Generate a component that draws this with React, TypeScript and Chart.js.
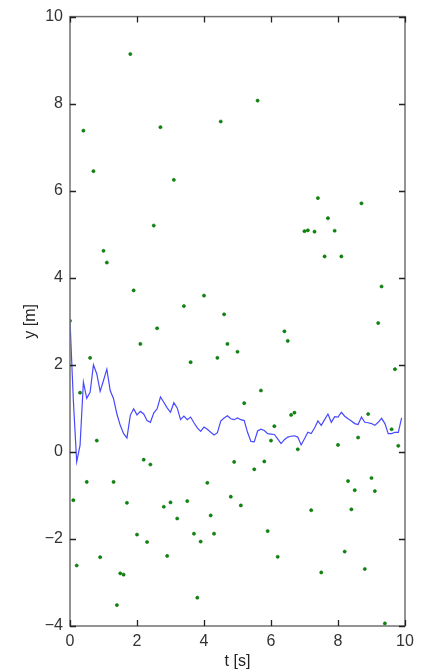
import React, { useEffect, useRef } from "react";
import { Chart, registerables } from "chart.js";

Chart.register(...registerables);

// Measurements (green dots)
const measT = [
  0.0, 0.1, 0.2, 0.3, 0.4, 0.5, 0.6, 0.7, 0.8, 0.9,
  1.0, 1.1, 1.3, 1.4, 1.5, 1.6, 1.7, 1.8, 1.9,
  2.0, 2.1, 2.2, 2.3, 2.4, 2.5, 2.6, 2.7, 2.8, 2.9,
  3.0, 3.1, 3.2, 3.4, 3.5, 3.6, 3.7, 3.8, 3.9,
  4.0, 4.1, 4.2, 4.3, 4.4, 4.5, 4.6, 4.7, 4.8, 4.9,
  5.0, 5.1, 5.2, 5.5, 5.6, 5.7, 5.8, 5.9,
  6.0, 6.1, 6.2, 6.4, 6.5, 6.6, 6.7, 6.8,
  7.0, 7.1, 7.2, 7.3, 7.4, 7.5, 7.6, 7.7, 7.9,
  8.0, 8.1, 8.2, 8.3, 8.4, 8.5, 8.6, 8.7, 8.8, 8.9,
  9.0, 9.1, 9.2, 9.3, 9.4, 9.6, 9.7, 9.8,
];
const measY = [
  3.01, -1.11, -2.61, 1.36, 7.38, -0.69, 2.16, 6.45, 0.26, -2.42,
  4.62, 4.35, -0.69, -3.52, -2.79, -2.82, -1.17, 9.14, 3.71,
  -1.9, 2.48, -0.18, -2.07, -0.29, 5.2, 2.84, 7.46, -1.26, -2.39,
  -1.16, 6.25, -1.53, 3.35, -1.13, 2.06, -1.88, -3.35, -2.06,
  3.59, -0.71, -1.46, -1.88, 2.16, 7.59, 3.16, 2.48, -1.03, -0.23,
  2.3, -1.23, 1.12, -0.4, 8.07, 1.41, -0.22, -1.82,
  0.26, 0.59, -2.41, 2.77, 2.55, 0.85, 0.9, 0.06,
  5.07, 5.09, -1.34, 5.06, 5.83, -2.77, 4.49, 5.37, 5.08,
  0.16, 4.49, -2.29, -0.67, -1.32, -0.88, 0.33, 5.71, -2.69, 0.87,
  -0.6, -0.9, 2.96, 3.8, -3.94, 0.52, 1.9, 0.14,
];

// Estimate (blue line)
const estT = [
  0.0, 0.1, 0.2, 0.3, 0.4, 0.5, 0.6, 0.7, 0.8, 0.9,
  1.0, 1.1, 1.2, 1.3, 1.4, 1.5, 1.6, 1.7, 1.8, 1.9,
  2.0, 2.1, 2.2, 2.3, 2.4, 2.5, 2.6, 2.7, 2.8, 2.9,
  3.0, 3.1, 3.2, 3.3, 3.4, 3.5, 3.6, 3.7, 3.8, 3.9,
  4.0, 4.1, 4.2, 4.3, 4.4, 4.5, 4.6, 4.7, 4.8, 4.9,
  5.0, 5.1, 5.2, 5.3, 5.4, 5.5, 5.6, 5.7, 5.8, 5.9,
  6.0, 6.1, 6.2, 6.3, 6.4, 6.5, 6.6, 6.7, 6.8, 6.9,
  7.0, 7.1, 7.2, 7.3, 7.4, 7.5, 7.6, 7.7, 7.8, 7.9,
  8.0, 8.1, 8.2, 8.3, 8.4, 8.5, 8.6, 8.7, 8.8, 8.9,
  9.0, 9.1, 9.2, 9.3, 9.4, 9.5, 9.6, 9.7, 9.8, 9.9,
];
const estY = [
  3.01, 1.18, -0.23, 0.15, 1.6, 1.23, 1.37, 2.0, 1.79, 1.39,
  1.64, 1.9, 1.41, 1.22, 0.87, 0.61, 0.42, 0.32, 0.84, 0.99,
  0.85, 0.93, 0.87, 0.72, 0.68, 0.89, 0.99, 1.26, 1.14, 1.01,
  0.91, 1.13, 1.01, 0.74, 0.82, 0.74, 0.8, 0.67, 0.55, 0.47,
  0.57, 0.52, 0.45, 0.39, 0.44, 0.71, 0.78, 0.83, 0.76, 0.74,
  0.78, 0.74, 0.72, 0.45, 0.24, 0.23, 0.48, 0.52, 0.49, 0.42,
  0.41, 0.4, 0.3, 0.19, 0.28, 0.34, 0.36, 0.37, 0.34, 0.16,
  0.3, 0.45, 0.42, 0.55, 0.71, 0.61, 0.74, 0.87, 0.68, 0.81,
  0.8, 0.91, 0.82, 0.76, 0.71, 0.65, 0.63, 0.8, 0.68, 0.67,
  0.65, 0.61, 0.68, 0.77, 0.65, 0.42, 0.42, 0.45, 0.45, 0.78,
];

const xTicks = [0, 2, 4, 6, 8, 10];
const yTicks = [-4, -2, 0, 2, 4, 6, 8, 10];

const fmt = (v: number) => (v < 0 ? "\u2212" + Math.abs(v) : String(v));

const framePlugin = {
  id: "frame",
  afterDatasetsDraw(chart: any) {
    const { ctx, chartArea } = chart;
    const { left, right, top, bottom } = chartArea;
    const xs = chart.scales.x;
    const ys = chart.scales.y;
    ctx.save();
    ctx.strokeStyle = "#707070";
    ctx.lineWidth = 1.5;
    ctx.strokeRect(left, top, right - left, bottom - top);
    ctx.strokeStyle = "#222";
    ctx.lineWidth = 1.3;
    const tl = 6;
    ctx.beginPath();
    xTicks.forEach((v) => {
      const px = Math.round(xs.getPixelForValue(v)) + 0.5;
      ctx.moveTo(px, bottom);
      ctx.lineTo(px, bottom - tl);
      ctx.moveTo(px, top);
      ctx.lineTo(px, top + tl);
    });
    yTicks.forEach((v) => {
      const py = Math.round(ys.getPixelForValue(v)) + 0.5;
      ctx.moveTo(left, py);
      ctx.lineTo(left + tl, py);
      ctx.moveTo(right, py);
      ctx.lineTo(right - tl, py);
    });
    ctx.stroke();
    ctx.restore();
  },
};

export default function App() {
  const ref = useRef<HTMLCanvasElement | null>(null);
  useEffect(() => {
    if (!ref.current) return;
    const font = { family: "Liberation Sans, Arial, sans-serif", size: 16 };
    const chart = new Chart(ref.current, {
      type: "scatter",
      data: {
        datasets: [
          {
            type: "line",
            data: estT.map((t, i) => ({ x: t, y: estY[i] })),
            borderColor: "rgba(40,40,255,0.85)",
            borderWidth: 1.2,
            pointRadius: 0,
            tension: 0,
            fill: false,
            order: 2,
          } as any,
          {
            type: "scatter",
            data: measT.map((t, i) => ({ x: t, y: measY[i] })),
            backgroundColor: "#0a8a0a",
            borderColor: "#006400",
            borderWidth: 0.5,
            pointRadius: 1.6,
            order: 1,
          },
        ],
      },
      options: {
        responsive: false,
        animation: false,
        layout: { padding: { top: 15, right: 17, left: 0, bottom: 0 } },
        plugins: { legend: { display: false }, tooltip: { enabled: false } },
        scales: {
          x: {
            type: "linear",
            min: 0,
            max: 10,
            afterBuildTicks: (s: any) => {
              s.ticks = xTicks.map((v) => ({ value: v }));
            },
            afterFit: (s: any) => {
              s.height = 45;
            },
            grid: { display: false, drawTicks: false },
            border: { display: false },
            ticks: {
              padding: 6,
              color: "#333",
              font,
              maxRotation: 0,
              autoSkip: false,
              callback: (v: any) => fmt(Number(v)),
            },
            title: {
              display: true,
              text: "t [s]",
              color: "#222",
              font,
              padding: { top: 0, bottom: 0 },
            },
          },
          y: {
            type: "linear",
            min: -4,
            max: 10,
            afterBuildTicks: (s: any) => {
              s.ticks = yTicks.map((v) => ({ value: v }));
            },
            afterFit: (s: any) => {
              s.width = 70;
            },
            grid: { display: false, drawTicks: false },
            border: { display: false },
            ticks: {
              padding: 7,
              color: "#333",
              font,
              autoSkip: false,
              callback: (v: any) => fmt(Number(v)),
            },
            title: {
              display: true,
              text: "y [m]",
              color: "#222",
              font,
              padding: { top: 21, bottom: 0 },
            },
          },
        },
      },
      plugins: [framePlugin],
    } as any);
    return () => chart.destroy();
  }, []);
  return (
    <div style={{ position: "fixed", left: 0, top: 0, width: 422, height: 671, background: "#fff" }}>
      <canvas ref={ref} width={422} height={671} style={{ width: 422, height: 671 }} />
    </div>
  );
}
